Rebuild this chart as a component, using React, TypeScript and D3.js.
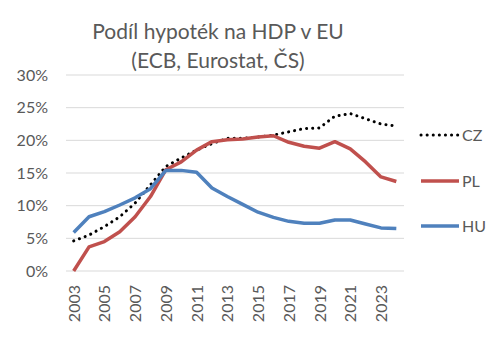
import React from "react";
import * as d3 from "d3";

const years = d3.range(2003, 2025).map(String);
const czValues = [4.6, 5.5, 6.8, 8.3, 10.4, 13.2, 16.0, 17.3, 18.5, 19.5, 20.3, 20.3, 20.5, 20.8, 21.3, 21.8, 21.9, 23.7, 24.1, 23.3, 22.5, 22.2];
const plValues = [0.0, 3.7, 4.5, 6.0, 8.3, 11.4, 15.5, 16.7, 18.5, 19.8, 20.1, 20.2, 20.5, 20.7, 19.7, 19.1, 18.8, 19.8, 18.7, 16.7, 14.4, 13.7];
const huValues = [5.9, 8.3, 9.1, 10.1, 11.2, 12.6, 15.4, 15.4, 15.1, 12.7, 11.4, 10.2, 9.0, 8.2, 7.6, 7.3, 7.3, 7.8, 7.8, 7.2, 6.6, 6.5];
const yTicks = [0, 5, 10, 15, 20, 25, 30];
const titleLines = ["Podíl hypoték na HDP v EU", "(ECB, Eurostat, ČS)"];

const series = [
  { name: "CZ", values: czValues, color: "#000000", dotted: true },
  { name: "PL", values: plValues, color: "#C0504D", dotted: false },
  { name: "HU", values: huValues, color: "#4F81BD", dotted: false },
];

export default function App() {
  const W = 499, H = 341;
  const left = 66, right = 404, top = 75, bottom = 271;
  const x = d3.scaleBand<string>().domain(years).range([left, right]);
  const y = d3.scaleLinear().domain([0, 30]).range([bottom, top]);
  const cx = (i: number) => (x(years[i]) as number) + x.bandwidth() / 2;
  const line = d3.line<number>().x((_, i) => cx(i)).y((v) => y(v));
  const font = "Lato, 'Open Sans', sans-serif";
  const grey = "#595959";
  const legendY = [135, 181, 226];
  return (
    <svg width={W} height={H} style={{ position: "absolute", left: 0, top: 0, background: "#fff" }} fontFamily={font}>
      {titleLines.map((t, i) => (
        <text key={t} x={218} y={39 + i * 29} textAnchor="middle" fontSize={21} fill={grey}>{t}</text>
      ))}
      {yTicks.map((t) => (
        <g key={t}>
          <line x1={left} x2={right} y1={y(t)} y2={y(t)} stroke="#d9d9d9" strokeWidth={1} />
          <text x={48} y={y(t)} dy="0.35em" textAnchor="end" fontSize={16} fill={grey}>{t}%</text>
        </g>
      ))}
      {years.map((yr, i) => (i % 2 === 0 ? (
        <text key={yr} transform={`translate(${cx(i) + 6},${bottom + 14}) rotate(-90)`} textAnchor="end" fontSize={16} fill={grey}>{yr}</text>
      ) : null))}
      {series.map((s) => (
        <path key={s.name} d={line(s.values) || ""} fill="none" stroke={s.color}
          strokeWidth={s.dotted ? 3 : 3.5}
          strokeDasharray={s.dotted ? "0.1,6" : undefined}
          strokeLinecap={s.dotted ? "round" : "butt"} strokeLinejoin="round" />
      ))}
      {series.map((s, k) => (
        <g key={s.name}>
          <line x1={421} x2={459} y1={legendY[k]} y2={legendY[k]} stroke={s.color} strokeWidth={s.dotted ? 3 : 3.5}
            strokeDasharray={s.dotted ? "0.1,6" : undefined} strokeLinecap={s.dotted ? "round" : "butt"} />
          <text x={462} y={legendY[k]} dy="0.35em" fontSize={16} fill={grey}>{s.name}</text>
        </g>
      ))}
    </svg>
  );
}
